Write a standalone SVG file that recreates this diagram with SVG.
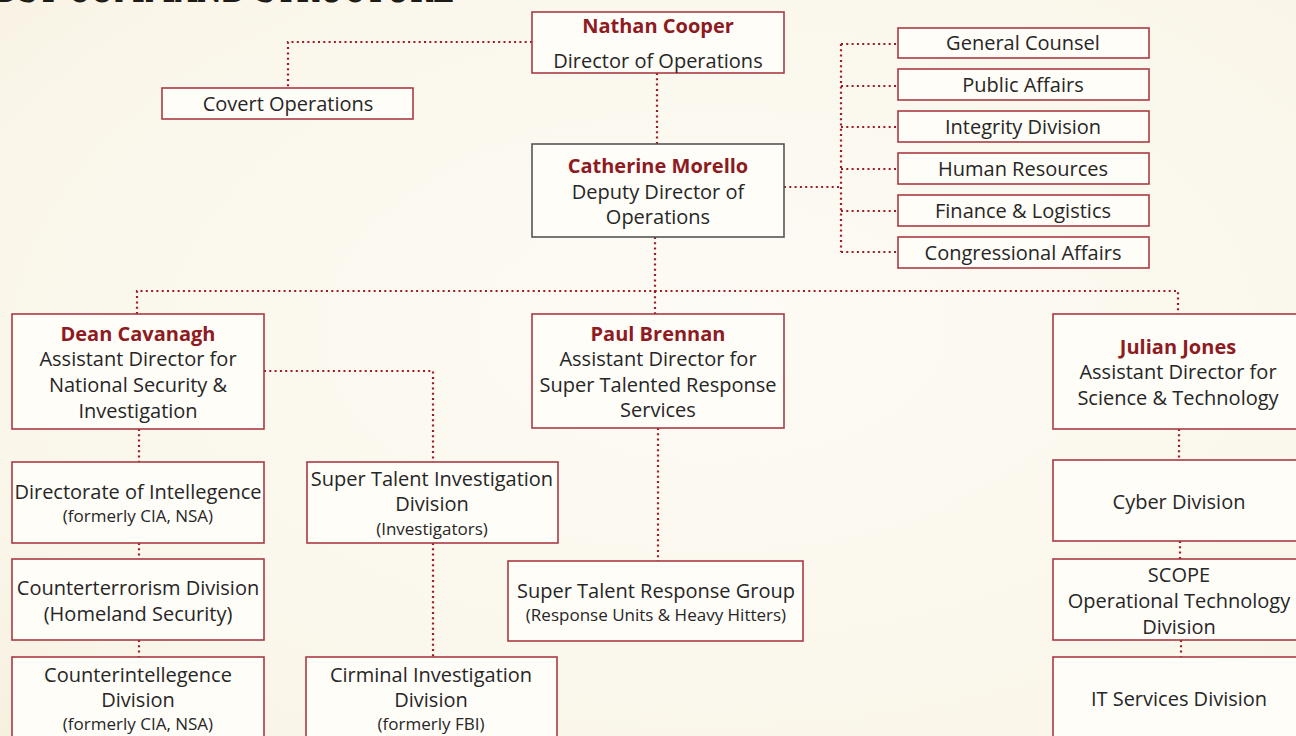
<svg xmlns="http://www.w3.org/2000/svg" width="1296" height="736" viewBox="0 0 1296 736">
<defs>
<radialGradient id="bg" cx="0.55" cy="0.45" r="0.85">
<stop offset="0" stop-color="#fdfbf5"/>
<stop offset="0.7" stop-color="#faf6ea"/>
<stop offset="1" stop-color="#f5eedb"/>
</radialGradient>
</defs>
<style>
.box{fill:#fffdf8;stroke:#ab3a44;stroke-width:1.6}
.gbox{fill:#fffdf8;stroke:#555;stroke-width:1.6}
.conn{fill:none;stroke:#9c1c26;stroke-width:2.2;stroke-dasharray:2 3.3}
text{font-family:"Open Sans","Noto Sans","Liberation Sans",sans-serif;text-anchor:middle;fill:#262626}
.t{font-size:20px}
.s{font-size:17px}
.n{font-size:20px;font-weight:bold;fill:#8e1a22}
.title{font-family:"DejaVu Serif","Liberation Serif",serif;font-weight:bold;font-size:40px;text-anchor:start;fill:#1e1a16}
</style>
<rect width="1296" height="736" fill="url(#bg)"/>
<text class="title" x="-6" y="2" textLength="460" lengthAdjust="spacingAndGlyphs">DST COMMAND STRUCTURE</text>

<g id="connectors">
<path class="conn" d="M532 42 H288 V88"/>
<path class="conn" d="M657 73 V144"/>
<path class="conn" d="M784 187 H841"/>
<path class="conn" d="M841 44 V252"/>
<path class="conn" d="M841 44 H898 M841 86 H898 M841 127 H898 M841 169 H898 M841 211 H898 M841 252 H898"/>
<path class="conn" d="M655 237 V291"/>
<path class="conn" d="M137 314 V291 H1178 V314"/>
<path class="conn" d="M655 291 V314"/>
<path class="conn" d="M264 371 H433 V462"/>
<path class="conn" d="M139 429 V462"/>
<path class="conn" d="M139 543 V559"/>
<path class="conn" d="M139 640 V657"/>
<path class="conn" d="M433 543 V657"/>
<path class="conn" d="M658 428 V561"/>
<path class="conn" d="M1179 429 V460"/>
<path class="conn" d="M1180 541 V559"/>
<path class="conn" d="M1181 640 V657"/>
</g>

<g id="nathan">
<rect class="box" x="532" y="12" width="252" height="61"/>
<text class="n" x="658" y="33">Nathan Cooper</text>
<text class="t" x="658" y="68">Director of Operations</text>
</g>
<g id="covert">
<rect class="box" x="162" y="88" width="251" height="31"/>
<text class="t" x="288" y="111">Covert Operations</text>
</g>
<g id="catherine">
<rect class="gbox" x="532" y="144" width="252" height="93"/>
<text class="n" x="658" y="173">Catherine Morello</text>
<text class="t" x="658" y="199">Deputy Director of</text>
<text class="t" x="658" y="224">Operations</text>
</g>
<g id="general-counsel">
<rect class="box" x="898" y="28" width="251" height="30"/>
<text class="t" x="1023" y="50">General Counsel</text>
</g>
<g id="public-affairs">
<rect class="box" x="898" y="69" width="251" height="31"/>
<text class="t" x="1023" y="92">Public Affairs</text>
</g>
<g id="integrity">
<rect class="box" x="898" y="111" width="251" height="31"/>
<text class="t" x="1023" y="134">Integrity Division</text>
</g>
<g id="hr">
<rect class="box" x="898" y="153" width="251" height="31"/>
<text class="t" x="1023" y="176">Human Resources</text>
</g>
<g id="finance">
<rect class="box" x="898" y="195" width="251" height="31"/>
<text class="t" x="1023" y="218">Finance &amp; Logistics</text>
</g>
<g id="congressional">
<rect class="box" x="898" y="237" width="251" height="31"/>
<text class="t" x="1023" y="260">Congressional Affairs</text>
</g>

<g id="dean">
<rect class="box" x="12" y="314" width="252" height="115"/>
<text class="n" x="138" y="341">Dean Cavanagh</text>
<text class="t" x="138" y="366">Assistant Director for</text>
<text class="t" x="138" y="392">National Security &amp;</text>
<text class="t" x="138" y="418">Investigation</text>
</g>
<g id="paul">
<rect class="box" x="532" y="314" width="252" height="114"/>
<text class="n" x="658" y="341">Paul Brennan</text>
<text class="t" x="658" y="366">Assistant Director for</text>
<text class="t" x="658" y="392">Super Talented Response</text>
<text class="t" x="658" y="417">Services</text>
</g>
<g id="julian">
<rect class="box" x="1053" y="314" width="252" height="115"/>
<text class="n" x="1178" y="354">Julian Jones</text>
<text class="t" x="1178" y="379">Assistant Director for</text>
<text class="t" x="1178" y="405">Science &amp; Technology</text>
</g>

<g id="directorate">
<rect class="box" x="12" y="462" width="252" height="81"/>
<text class="t" x="138" y="499">Directorate of Intellegence</text>
<text class="s" x="138" y="522">(formerly CIA, NSA)</text>
</g>
<g id="counterterrorism">
<rect class="box" x="12" y="559" width="252" height="81"/>
<text class="t" x="138" y="595">Counterterrorism Division</text>
<text class="t" x="138" y="621">(Homeland Security)</text>
</g>
<g id="counterintelligence">
<rect class="box" x="12" y="657" width="252" height="90"/>
<text class="t" x="138" y="682">Counterintellegence</text>
<text class="t" x="138" y="707">Division</text>
<text class="s" x="138" y="730">(formerly CIA, NSA)</text>
</g>
<g id="stid">
<rect class="box" x="307" y="462" width="251" height="81"/>
<text class="t" x="432" y="486">Super Talent Investigation</text>
<text class="t" x="432" y="511">Division</text>
<text class="s" x="432" y="535">(Investigators)</text>
</g>
<g id="criminal">
<rect class="box" x="306" y="657" width="251" height="90"/>
<text class="t" x="431" y="682">Cirminal Investigation</text>
<text class="t" x="431" y="707">Division</text>
<text class="s" x="431" y="730">(formerly FBI)</text>
</g>
<g id="strg">
<rect class="box" x="508" y="561" width="295" height="80"/>
<text class="t" x="656" y="598">Super Talent Response Group</text>
<text class="s" x="656" y="621">(Response Units &amp; Heavy Hitters)</text>
</g>
<g id="cyber">
<rect class="box" x="1053" y="460" width="252" height="81"/>
<text class="t" x="1179" y="509">Cyber Division</text>
</g>
<g id="scope">
<rect class="box" x="1053" y="559" width="252" height="81"/>
<text class="t" x="1179" y="582">SCOPE</text>
<text class="t" x="1179" y="608">Operational Technology</text>
<text class="t" x="1179" y="634">Division</text>
</g>
<g id="it-services">
<rect class="box" x="1053" y="657" width="252" height="90"/>
<text class="t" x="1179" y="706">IT Services Division</text>
</g>
</svg>
